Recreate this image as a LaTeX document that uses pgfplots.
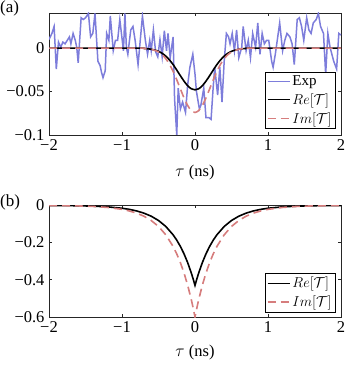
\documentclass[border=0pt]{standalone}
\usepackage{fontspec}
\setmainfont{Liberation Serif}
\usepackage{pgfplots}
\pgfplotsset{compat=1.18}
\definecolor{expc}{rgb}{0.49,0.49,0.86}
\definecolor{imc}{rgb}{0.84,0.49,0.49}
\definecolor{axc}{rgb}{0.15,0.15,0.15}
\pgfplotsset{
  myax/.style={
    scale only axis, width=292pt,
    xmin=-2, xmax=2,
    axis line style={axc, line width=0.6pt},
    tick style={axc, line width=0.6pt},
    tick align=inside, major tick length=3pt,
    xtick pos=both, ytick pos=both,
    xtick={-2,-1,0,1,2},
    xticklabels={−2,−1,0,1,2},
    ticklabel style={font=\fontsize{16.5}{18}\selectfont},
    xticklabel style={yshift=-1pt},
    yticklabel style={xshift=-1pt},
    legend cell align=left,
    legend style={font=\fontsize{15}{16}\selectfont, draw=black, inner sep=1.5pt, row sep=2.5pt, fill=white},
    legend image code/.code={\draw[#1] (0pt,0pt) -- (22pt,0pt);},
    xlabel={$\tau$ (ns)},
    label style={font=\fontsize{16.5}{18}\selectfont},
  }
}
\begin{document}
\begin{tikzpicture}
\path[use as bounding box] (0,0) rectangle (354pt,-366pt);
\node[anchor=north west, inner sep=0pt, font=\fontsize{17}{19}\selectfont] at (0pt,-1pt) {(a)};
\node[anchor=north west, inner sep=0pt, font=\fontsize{17}{19}\selectfont] at (0pt,-195pt) {(b)};
\begin{axis}[myax, at={(49pt,-13pt)}, anchor=north west, height=122pt,
  ymin=-0.1, ymax=0.0405,
  ytick={-0.1,-0.05,0}, yticklabels={−0.1,−0.05,0},
  xlabel style={at={(axis description cs:0.5,0)}, anchor=center, yshift=-38pt},
  legend style={at={(0.98,0.055)}, anchor=south east}]
\addplot[expc, line width=1.5pt] coordinates {
(-2.00,0.010) (-1.96,0.017) (-1.93,0.025) (-1.90,-0.024) (-1.87,0.007) (-1.84,0.001)
(-1.81,0.007) (-1.78,0.005) (-1.75,0.009) (-1.72,0.013) (-1.70,0.005) (-1.67,0.017)
(-1.64,0.009) (-1.62,0.001) (-1.60,-0.017) (-1.56,0.035) (-1.53,0.033) (-1.50,0.035)
(-1.46,0.040) (-1.43,0.013) (-1.40,0.017) (-1.37,0.040) (-1.33,-0.015) (-1.30,-0.020)
(-1.28,-0.028) (-1.26,-0.034) (-1.23,-0.026) (-1.21,0.017) (-1.18,0.009) (-1.16,0.037)
(-1.12,-0.003) (-1.09,0.009) (-1.06,0.009) (-1.03,0.033) (-0.98,-0.003) (-0.96,0.040)
(-0.94,0.001) (-0.92,-0.007) (-0.88,0.021) (-0.85,0.025) (-0.82,0.009) (-0.78,-0.019)
(-0.75,0.009) (-0.72,0.037) (-0.68,0.009) (-0.65,-0.007) (-0.62,0.009) (-0.60,-0.003)
(-0.57,0.021) (-0.54,-0.004) (-0.51,-0.010) (-0.48,0.010) (-0.45,-0.010) (-0.42,0.020)
(-0.39,-0.003) (-0.37,0.017) (-0.34,-0.011) (-0.30,0.013) (-0.28,-0.058) (-0.25,-0.100)
(-0.23,-0.046) (-0.20,-0.070) (-0.17,-0.062) (-0.13,-0.074) (-0.10,-0.042) (-0.07,-0.022)
(-0.03,-0.007) (0.00,-0.030) (0.02,-0.050) (0.06,-0.070) (0.08,-0.066) (0.12,-0.046)
(0.15,-0.080) (0.19,-0.080) (0.22,-0.082) (0.25,-0.044) (0.27,-0.022) (0.31,-0.054)
(0.34,-0.022) (0.37,-0.062) (0.40,-0.015) (0.43,0.017) (0.46,0.013) (0.48,0.005)
(0.51,0.017) (0.54,-0.003) (0.57,0.021) (0.60,-0.011) (0.64,0.001) (0.66,0.025)
(0.70,-0.003) (0.73,0.009) (0.76,-0.011) (0.79,0.017) (0.83,0.001) (0.86,0.029)
(0.89,-0.007) (0.92,0.017) (0.95,0.005) (0.98,0.009) (1.01,0.009) (1.05,-0.015)
(1.07,-0.022) (1.10,-0.007) (1.14,0.017) (1.16,0.029) (1.20,-0.003) (1.23,0.009)
(1.26,0.017) (1.30,0.013) (1.33,0.005) (1.36,-0.019) (1.40,0.033) (1.43,0.035)
(1.46,0.025) (1.49,0.009) (1.53,0.035) (1.56,0.021) (1.59,0.017) (1.62,0.029)
(1.66,0.033) (1.69,0.040) (1.72,0.025) (1.76,0.017) (1.79,-0.030) (1.82,0.017)
(1.85,0.001) (1.90,-0.015) (1.94,-0.024) (1.97,0.017) (2.00,0.015)};
\addlegendentry{Exp}
\addplot[black, line width=1.6pt, smooth] coordinates {
(-2,0) (-0.8,0) (-0.7,-0.0003) (-0.6,-0.0012) (-0.5,-0.0036) (-0.45,-0.0059) (-0.4,-0.0092)
(-0.35,-0.0135) (-0.3,-0.0189) (-0.25,-0.0252) (-0.2,-0.0318) (-0.15,-0.0380) (-0.1,-0.0433)
(-0.05,-0.0468) (0,-0.0480) (0.05,-0.0468) (0.1,-0.0433) (0.15,-0.0380) (0.2,-0.0318)
(0.25,-0.0252) (0.3,-0.0189) (0.35,-0.0135) (0.4,-0.0092) (0.45,-0.0059) (0.5,-0.0036)
(0.6,-0.0012) (0.7,-0.0003) (0.8,0) (2,0)};
\addlegendentry{$Re[\mathcal{T}]$}
\addplot[imc, line width=1.6pt, dash pattern=on 8pt off 5pt, smooth] coordinates {
(-2,0) (-0.8,0) (-0.7,-0.0003) (-0.6,-0.0012) (-0.5,-0.0043) (-0.45,-0.0075) (-0.4,-0.0121)
(-0.35,-0.0185) (-0.3,-0.0267) (-0.25,-0.0364) (-0.2,-0.0470) (-0.15,-0.0573) (-0.1,-0.0661)
(-0.05,-0.0719) (0,-0.0740) (0.05,-0.0719) (0.1,-0.0661) (0.15,-0.0573) (0.2,-0.0470)
(0.25,-0.0364) (0.3,-0.0267) (0.35,-0.0185) (0.4,-0.0121) (0.45,-0.0075) (0.5,-0.0043)
(0.6,-0.0012) (0.7,-0.0003) (0.8,0) (2,0)};
\addlegendentry{$Im[\mathcal{T}]$}
\end{axis}
\begin{axis}[myax, at={(49pt,-205pt)}, anchor=north west, height=112pt,
  ymin=-0.6, ymax=0.002,
  ytick={-0.6,-0.4,-0.2,0}, yticklabels={−0.6,−0.4,−0.2,0},
  xlabel style={at={(axis description cs:0.5,0)}, anchor=center, yshift=-36pt},
  legend style={at={(0.98,0.045)}, anchor=south east}]
\addplot[black, line width=1.6pt] coordinates {
(-2.0,-0.0006) (-1.8,-0.0011) (-1.6,-0.0021) (-1.4,-0.0040) (-1.2,-0.0079) (-1.0,-0.0154)
(-0.9,-0.0214) (-0.8,-0.0299) (-0.7,-0.0417) (-0.6,-0.0582) (-0.5,-0.0812) (-0.4,-0.1133)
(-0.3,-0.1582) (-0.25,-0.1869) (-0.2,-0.2208) (-0.15,-0.2608) (-0.1,-0.3081) (-0.05,-0.3640)
(-0.025,-0.3956) (0,-0.4300) (0.025,-0.3956) (0.05,-0.3640) (0.1,-0.3081) (0.15,-0.2608)
(0.2,-0.2208) (0.25,-0.1869) (0.3,-0.1582) (0.4,-0.1133) (0.5,-0.0812) (0.6,-0.0582)
(0.7,-0.0417) (0.8,-0.0299) (0.9,-0.0214) (1.0,-0.0154) (1.2,-0.0079) (1.4,-0.0040)
(1.6,-0.0021) (1.8,-0.0011) (2.0,-0.0006)};
\addlegendentry{$Re[\mathcal{T}]$}
\addplot[imc, line width=1.6pt, dash pattern=on 8pt off 5pt] coordinates {
(-2.0,-0.0008) (-1.8,-0.0015) (-1.6,-0.0029) (-1.4,-0.0056) (-1.2,-0.0110) (-1.0,-0.0214)
(-0.9,-0.0299) (-0.8,-0.0417) (-0.7,-0.0582) (-0.6,-0.0812) (-0.5,-0.1133) (-0.4,-0.1582)
(-0.3,-0.2207) (-0.25,-0.2608) (-0.2,-0.3080) (-0.15,-0.3639) (-0.1,-0.4299) (-0.05,-0.5079)
(-0.025,-0.5520) (0,-0.6000) (0.025,-0.5520) (0.05,-0.5079) (0.1,-0.4299) (0.15,-0.3639)
(0.2,-0.3080) (0.25,-0.2608) (0.3,-0.2207) (0.4,-0.1582) (0.5,-0.1133) (0.6,-0.0812)
(0.7,-0.0582) (0.8,-0.0417) (0.9,-0.0299) (1.0,-0.0214) (1.2,-0.0110) (1.4,-0.0056)
(1.6,-0.0029) (1.8,-0.0015) (2.0,-0.0008)};
\addlegendentry{$Im[\mathcal{T}]$}
\end{axis}
\end{tikzpicture}
\end{document}
